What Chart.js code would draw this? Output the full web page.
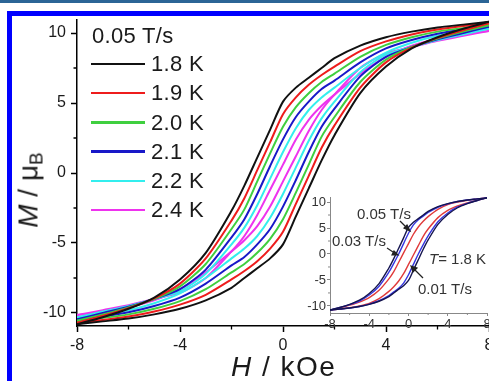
<!DOCTYPE html>
<html>
<head>
<meta charset="utf-8">
<script src="https://cdn.jsdelivr.net/npm/chart.js@4.4.1/dist/chart.umd.min.js"></script>
<style>
html, body { margin: 0; padding: 0; background: #fff; overflow: hidden; width: 489px; height: 381px; }
body { position: relative; font-family: "Liberation Sans", Arial, sans-serif; color: #1a1a1a; }
#topbar { position: absolute; left: 0; top: 0; width: 489px; height: 3px; background: #2b6596; }
#frame { position: absolute; left: 7px; top: 11px; width: 600px; height: 500px; border-left: 5px solid #0000ff; border-top: 5px solid #0000ff; }
#main { position: absolute; left: 0; top: 0; }
#inset { position: absolute; left: 290px; top: 185px; }
.t { position: absolute; white-space: nowrap; line-height: 1; }
.leg { font-size: 22px; letter-spacing: 0.3px; }
.ins { font-size: 15px; color: #333; }
#arrows { position: absolute; left: 0; top: 0; }
</style>
</head>
<body>
<div id="topbar"></div>
<div id="frame"></div>
<canvas id="main" width="560" height="381"></canvas>
<canvas id="inset" width="240" height="150"></canvas>
<div id="legend"></div>
<div class="t" style="left:231px;top:353px;font-size:28px;letter-spacing:1.5px"><i>H</i> / kOe</div>
<div class="t" style="left:30px;top:190px;font-size:28px;transform:translate(-50%,-50%) rotate(-90deg)"><i>M</i> / &mu;<sub style="font-size:19px;vertical-align:-5px">B</sub></div>
<div class="t ins" style="left:357px;top:206px">0.05 T/s</div>
<div class="t ins" style="left:332px;top:233px">0.03 T/s</div>
<div class="t ins" style="left:429px;top:251px"><i>T</i>= 1.8 K</div>
<div class="t ins" style="left:418px;top:281px">0.01 T/s</div>
<svg id="arrows" width="489" height="381">
  <g stroke="#222" stroke-width="1.2" fill="#222">
    <line x1="400" y1="221" x2="408" y2="229"/><polygon points="410,231 404,228 407,225"/>
    <line x1="387" y1="248" x2="396" y2="254"/><polygon points="398,255 392,255 394,251"/>
    <line x1="423" y1="278" x2="413" y2="268"/><polygon points="411,266 417,268 413,272"/>
  </g>
</svg>
<script>
// field grid (kOe)
const H = [-8, -7, -6, -5, -4, -3, -2, -1.5, -1, -0.5, 0, 0.5, 1, 1.5, 2, 3, 4, 5, 6, 7, 8];

const temps = ['1.8 K', '1.9 K', '2.0 K', '2.1 K', '2.2 K', '2.4 K'];
const colors = ['#111111', '#ee1c1c', '#3fcf3f', '#1818c8', '#33eeee', '#ee33ee'];

// 0.05 T/s, field sweeping down (upper branch)
const down18 = [-10.8, -10.3, -9.7, -8.9, -7.6, -5.7, -2.7, -0.9, 1.1, 3.1, 5.1, 6.1, 6.8, 7.5, 8.2, 9.1, 9.7, 10.1, 10.4, 10.6, 10.8];
const down19 = [-10.7, -10.2, -9.65, -8.95, -7.9, -6.1, -3.4, -1.8, 0.2, 2.2, 4.2, 5.4, 6.3, 7.0, 7.6, 8.7, 9.4, 9.9, 10.25, 10.5, 10.7];
const down20 = [-10.55, -10.1, -9.6, -9.0, -8.1, -6.5, -4.0, -2.6, -0.6, 1.4, 3.3, 4.7, 5.7, 6.5, 7.1, 8.3, 9.15, 9.7, 10.1, 10.35, 10.55];
const down21 = [-10.45, -10.0, -9.55, -9.0, -8.3, -6.9, -4.6, -3.3, -1.5, 0.5, 2.4, 4.0, 5.1, 6.0, 6.6, 7.9, 8.9, 9.5, 9.95, 10.25, 10.45];
const down22 = [-10.3, -9.9, -9.5, -9.0, -8.45, -7.2, -5.1, -3.9, -2.3, -0.4, 1.5, 3.2, 4.5, 5.4, 6.1, 7.5, 8.6, 9.3, 9.8, 10.1, 10.3];
const down24 = [-10.15, -9.8, -9.45, -9.0, -8.55, -7.5, -5.6, -4.5, -3.0, -1.2, 0.6, 2.4, 3.8, 4.8, 5.6, 7.1, 8.3, 9.1, 9.6, 9.95, 10.15];

// 0.05 T/s, field sweeping up (lower branch)
const up18 = [-10.8, -10.6, -10.4, -10.1, -9.7, -9.1, -8.2, -7.5, -6.8, -6.1, -5.1, -3.1, -1.1, 0.9, 2.7, 5.7, 7.6, 8.9, 9.7, 10.3, 10.8];
const up19 = [-10.7, -10.5, -10.25, -9.9, -9.4, -8.7, -7.6, -7.0, -6.3, -5.4, -4.2, -2.2, -0.2, 1.8, 3.4, 6.1, 7.9, 8.95, 9.65, 10.2, 10.7];
const up20 = [-10.55, -10.35, -10.1, -9.7, -9.15, -8.3, -7.1, -6.5, -5.7, -4.7, -3.3, -1.4, 0.6, 2.6, 4.0, 6.5, 8.1, 9.0, 9.6, 10.1, 10.55];
const up21 = [-10.45, -10.25, -9.95, -9.5, -8.9, -7.9, -6.6, -6.0, -5.1, -4.0, -2.4, -0.5, 1.5, 3.3, 4.6, 6.9, 8.3, 9.0, 9.55, 10.0, 10.45];
const up22 = [-10.3, -10.1, -9.8, -9.3, -8.6, -7.5, -6.1, -5.4, -4.5, -3.2, -1.5, 0.4, 2.3, 3.9, 5.1, 7.2, 8.45, 9.0, 9.5, 9.9, 10.3];
const up24 = [-10.15, -9.95, -9.6, -9.1, -8.3, -7.1, -5.6, -4.8, -3.8, -2.4, -0.6, 1.2, 3.0, 4.5, 5.6, 7.5, 8.55, 9.0, 9.45, 9.8, 10.15];

// inset, 1.8 K at three sweep rates
const rates = ['0.05 T/s', '0.03 T/s', '0.01 T/s'];
const rateColors = ['#15154f', '#3535e0', '#e03a3a'];
const down03 = [-10.8, -10.3, -9.75, -9.05, -7.9, -6.2, -3.5, -1.8, 0.0, 2.0, 4.0, 5.6, 6.6, 7.3, 8.0, 9.0, 9.65, 10.1, 10.4, 10.6, 10.8];
const up03 = [-10.8, -10.6, -10.4, -10.1, -9.65, -9.0, -8.0, -7.3, -6.6, -5.6, -4.0, -2.0, 0.0, 1.8, 3.5, 6.2, 7.9, 9.05, 9.75, 10.3, 10.8];
const down01 = [-10.8, -10.35, -9.85, -9.25, -8.4, -7.0, -4.8, -3.4, -1.6, 0.2, 2.0, 3.8, 5.2, 6.3, 7.2, 8.6, 9.5, 10.0, 10.35, 10.6, 10.8];
const up01 = [-10.8, -10.6, -10.35, -10.0, -9.5, -8.6, -7.2, -6.3, -5.2, -3.8, -2.0, -0.2, 1.6, 3.4, 4.8, 7.0, 8.4, 9.25, 9.85, 10.35, 10.8];

const xTicks = [-8, -4, 0, 4, 8];
const yTicks = [-10, -5, 0, 5, 10];
const xMinor = [-6, -2, 2, 6];
const yMinor = [-7.5, -2.5, 2.5, 7.5];

const mainDown = [down18, down19, down20, down21, down22, down24];
const mainUp = [up18, up19, up20, up21, up22, up24];
const insetDown = [down18, down03, down01];
const insetUp = [up18, up03, up01];

const pts = arr => H.map((h, i) => ({ x: h, y: arr[i] }));

// legend (html text)
const legend = document.getElementById('legend');
let html = '<div class="t leg" style="left:92px;top:25px">0.05 T/s</div>';
temps.forEach((t, i) => {
    const cy = 64 + i * 29.2;
    html += '<div style="position:absolute;left:91px;top:' + (cy - 1.2) + 'px;width:54px;height:2.4px;background:' + colors[i] + '"></div>';
    html += '<div class="t leg" style="left:151px;top:' + (cy - 10.8) + 'px">' + t + '</div>';
});
legend.innerHTML = html;

// minor ticks, drawn outside the axes
const minorTicks = {
    id: 'minorTicks',
    afterDraw(chart, args, opts) {
        const ctx = chart.ctx, xs = chart.scales.x, ys = chart.scales.y;
        ctx.save();
        ctx.strokeStyle = opts.color;
        ctx.lineWidth = opts.width;
        ctx.beginPath();
        xMinor.forEach(v => {
            const px = xs.getPixelForValue(v);
            ctx.moveTo(px, ys.bottom);
            ctx.lineTo(px, ys.bottom + opts.len);
        });
        yMinor.forEach(v => {
            const py = ys.getPixelForValue(v);
            ctx.moveTo(xs.left, py);
            ctx.lineTo(xs.left - opts.len, py);
        });
        ctx.stroke();
        ctx.restore();
    }
};

function axes(o) {
    return {
        x: {
            type: 'linear', min: -8, max: 8,
            afterBuildTicks: s => { s.ticks = xTicks.map(v => ({ value: v })); },
            afterFit: s => { s.height = o.xh; },
            border: { display: true, color: o.axis, width: o.bw },
            grid: { drawOnChartArea: false, drawTicks: true, tickLength: o.tl, tickColor: o.axis, tickWidth: o.bw },
            ticks: { color: o.font, font: { family: 'Liberation Sans', size: o.fs }, padding: o.xpad, maxRotation: 0 }
        },
        y: {
            type: 'linear', min: o.ymin, max: o.ymax,
            afterBuildTicks: s => { s.ticks = yTicks.map(v => ({ value: v })); },
            afterFit: s => { s.width = o.yw; },
            border: { display: true, color: o.axis, width: o.bw },
            grid: { drawOnChartArea: false, drawTicks: true, tickLength: o.tl, tickColor: o.axis, tickWidth: o.bw },
            ticks: { color: o.font, font: { family: 'Liberation Sans', size: o.fs }, padding: o.ypad }
        }
    };
}

const mainSets = [];
temps.forEach((t, i) => {
    mainSets.push({ label: t, data: pts(mainDown[i]), borderColor: colors[i], borderWidth: 2 });
    mainSets.push({ label: t, data: pts(mainUp[i]), borderColor: colors[i], borderWidth: 2 });
});

new Chart(document.getElementById('main'), {
    type: 'line',
    data: { datasets: mainSets },
    options: {
        responsive: false, animation: false,
        layout: { padding: { top: 20, right: 71, left: 0, bottom: 0 } },
        elements: { point: { radius: 0 }, line: { tension: 0.25 } },
        plugins: { legend: { display: false }, tooltip: { enabled: false }, minorTicks: { len: 3.5, color: '#000', width: 1.3 } },
        scales: axes({ ymin: -10.93, ymax: 10.93, xh: 55, yw: 77, tl: 6, bw: 1.5, axis: '#000', font: '#1a1a1a', fs: 16, xpad: 4, ypad: 5 })
    },
    plugins: [minorTicks]
});

const insetSets = [];
rates.forEach((r, i) => {
    insetSets.push({ label: r, data: pts(insetDown[i]), borderColor: rateColors[i], borderWidth: 1.4 });
    insetSets.push({ label: r, data: pts(insetUp[i]), borderColor: rateColors[i], borderWidth: 1.4 });
});

new Chart(document.getElementById('inset'), {
    type: 'line',
    data: { datasets: insetSets },
    options: {
        responsive: false, animation: false,
        layout: { padding: { top: 12, right: 43, left: 0, bottom: 0 } },
        elements: { point: { radius: 0 }, line: { tension: 0.3 } },
        plugins: { legend: { display: false }, tooltip: { enabled: false }, minorTicks: { len: 2, color: '#888', width: 1 } },
        scales: axes({ ymin: -11.36, ymax: 10.97, xh: 22, yw: 40, tl: 3, bw: 1, axis: '#888', font: '#333', fs: 13, xpad: 1, ypad: 1 })
    },
    plugins: [minorTicks]
});
</script>
</body>
</html>
